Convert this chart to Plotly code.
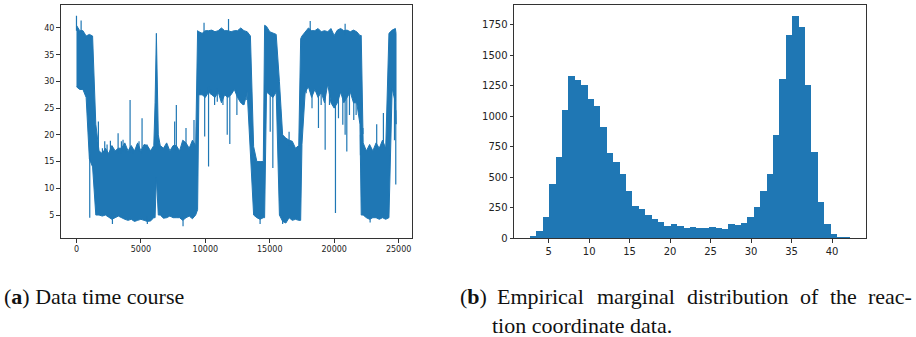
import numpy as np
import plotly.graph_objects as go

# ---------------- data ----------------
# (a) time course: envelope (upper / lower edge) of the dense trace
t_env = [0, 250, 500, 750, 1000, 1250, 1500, 1750, 2000, 2250, 2500, 2750, 3000, 3250, 3500,
         3750, 4000, 4250, 4500, 4750, 5000, 5250, 5500, 5750, 6000, 6100, 6200, 6350, 6500,
         6750, 7000, 7250, 7500, 7750, 8000, 8250, 8500, 8750, 9000, 9250, 9400, 9500, 9750,
         10000, 10250, 10500, 10750, 11000, 11250, 11500, 11750, 12000, 12250, 12500, 12750,
         13000, 13250, 13500, 13750, 14000, 14250, 14500, 14600, 14750, 15000, 15250, 15500,
         15750, 16000, 16250, 16500, 16750, 17000, 17250, 17400, 17500, 17750, 18000, 18250,
         18500, 18750, 19000, 19250, 19500, 19750, 20000, 20250, 20500, 20750, 21000, 21250,
         21500, 21750, 22000, 22100, 22250, 22500, 22750, 23000, 23250, 23500, 23750, 24000,
         24250, 24500, 24750, 24800]
y_high = [40.5, 39.5, 39.5, 38.5, 38.8, 38.5, 22.0, 17.0, 16.5, 17.5, 16.5, 18.0, 17.0, 17.5, 17.5,
          18.5, 17.0, 18.0, 17.0, 18.5, 17.0, 18.2, 18.0, 17.0, 18.0, 26.0, 39.0, 20.0, 18.0,
          17.5, 18.5, 17.0, 18.0, 18.0, 17.0, 19.0, 18.5, 17.5, 19.0, 18.0, 39.5, 39.3, 39.0,
          39.5, 39.5, 39.6, 39.3, 39.5, 40.0, 39.5, 39.5, 39.3, 39.5, 39.5, 40.0,
          39.5, 39.3, 38.5, 17.8, 15.0, 15.0, 15.0, 40.5, 40.3, 39.3, 39.0, 38.8,
          30.0, 20.0, 19.4, 19.0, 18.8, 17.5, 18.0, 38.0, 38.5, 39.3, 40.0, 39.5,
          39.5, 39.9, 39.3, 39.5, 39.3, 39.9, 38.6, 39.6, 39.9, 39.5, 39.6, 39.3,
          39.6, 39.3, 38.6, 38.6, 18.5, 17.0, 18.2, 17.0, 18.5, 17.5, 19.0, 17.5,
          39.0, 39.6, 39.9, 39.0]
y_low = [29.0, 28.5, 28.5, 27.0, 15.5, 14.0, 5.0, 5.0, 4.8, 5.0, 4.6, 4.2, 4.5, 4.8, 4.5,
         4.2, 4.0, 4.2, 3.8, 4.0, 4.2, 4.0, 3.8, 3.9, 4.5, 4.5, 12.0, 5.0, 5.0,
         4.4, 4.5, 4.8, 4.5, 4.5, 4.5, 4.0, 4.5, 4.8, 4.3, 5.0, 6.0, 27.5, 27.5,
         27.0, 28.0, 27.5, 27.0, 28.0, 26.0, 27.5, 27.0, 27.5, 28.5, 27.0, 26.0,
         25.6, 28.0, 18.0, 5.0, 4.5, 4.2, 4.5, 4.5, 28.0, 27.5, 27.0, 28.0,
         5.0, 3.8, 3.5, 4.5, 4.0, 4.2, 4.0, 4.0, 18.2, 28.0, 29.0, 27.0,
         28.5, 27.0, 28.0, 26.0, 29.5, 26.0, 25.0, 26.0, 28.0, 26.0, 27.0, 28.0,
         26.0, 26.0, 22.0, 5.0, 5.0, 4.5, 4.2, 4.5, 4.5, 4.2, 4.5, 4.2,
         4.5, 28.7, 26.0, 22.0]
# isolated excursions beyond the dense band
spike_up_t = [0, 360, 1700, 2013, 2193, 2374, 2633, 3230, 3485, 3614, 3873, 4160, 4390, 4700,
              4855, 5090, 5475, 7620, 7750, 8500, 9120, 9900, 11800, 16500,
              18140, 20850, 22230, 23300, 23820]
spike_up_y = [42.3, 41.4, 22.5, 17.5, 18.8, 18.2, 18.9, 20.3, 18.8, 19.1, 17.5, 26.5, 16.9, 18.2,
              18.8, 23.1, 18.2, 22.5, 25.6, 21.3, 22.8, 41.0, 41.7, 20.6,
              41.3, 40.8, 21.3, 22.0, 24.1]
spike_dn_t = [1030, 9559, 9950, 10250, 10463, 10720, 10928, 11186, 11367, 11700, 11900, 12450,
              12918, 13176, 15036, 15240, 17827, 18280, 18780, 18990, 19300, 19636, 19817,
              20100, 20333, 20669, 20850, 20980, 21186, 21520, 21703, 22040, 24680, 24780,
              2790, 5500, 8270, 14250, 16000, 22790]
spike_dn_y = [4.5, 27.8, 19.7, 14.1, 27.5, 25.6, 26.2, 28.4, 25.6, 20.0, 18.3, 23.7,
              25.6, 26.5, 20.6, 13.8, 27.8, 25.0, 21.3, 25.6, 17.2, 25.6, 26.2,
              5.4, 23.1, 21.9, 20.0, 16.9, 23.7, 22.8, 23.7, 20.0, 19.0, 10.7,
              3.3, 3.3, 2.9, 3.3, 3.3, 3.6]

# (b) histogram: 50 bins between the data minimum and maximum
hist_min, hist_max = 2.7, 42.2
hist_counts = [14, 57, 170, 444, 666, 1052, 1329, 1296, 1255, 1140, 1082, 910, 696, 622, 523,
               384, 260, 236, 186, 153, 131, 99, 112, 99, 79, 88, 79, 79, 88, 79, 71, 112,
               104, 120, 170, 252, 384, 523, 844, 1304, 1668, 1822, 1732, 1255, 704, 293,
               112, 30, 8, 3]

ts_xticks = [0, 5000, 10000, 15000, 20000, 25000]
ts_yticks = [5, 10, 15, 20, 25, 30, 35, 40]
h_xticks = [5, 10, 15, 20, 25, 30, 35, 40]
h_yticks = [0, 250, 500, 750, 1000, 1250, 1500, 1750]

caption_a = ['(<b>a</b>) Data time course']
caption_b1 = ['(<b>b</b>)', 'Empirical', 'marginal', 'distribution', 'of', 'the', 'reac-']
caption_b2 = ['tion coordinate data.']

# ---------------- figure ----------------
BLUE = '#1f77b4'
W, H = 916, 337
fig = go.Figure()

t_env_a = np.array(t_env, float)
hi = np.array(y_high)
lo = np.array(y_low)
fig.add_trace(go.Scatter(
    x=np.concatenate([t_env_a, t_env_a[::-1]]),
    y=np.concatenate([hi, lo[::-1]]),
    fill='toself', fillcolor=BLUE, mode='lines',
    line=dict(color=BLUE, width=1), hoverinfo='skip', showlegend=False,
    xaxis='x', yaxis='y'))

sx, sy = [], []
for t, y in zip(spike_up_t, spike_up_y):
    base = float(np.interp(t, t_env_a, hi))
    sx += [t, t, None]
    sy += [base - 1.0, y, None]
for t, y in zip(spike_dn_t, spike_dn_y):
    base = float(np.interp(t, t_env_a, lo))
    sx += [t, t, None]
    sy += [base + 1.0, y, None]
fig.add_trace(go.Scatter(x=sx, y=sy, mode='lines', line=dict(color=BLUE, width=1.2),
                         hoverinfo='skip', showlegend=False, xaxis='x', yaxis='y'))

edges = np.linspace(hist_min, hist_max, len(hist_counts) + 1)
centers = (edges[:-1] + edges[1:]) / 2
bw = edges[1] - edges[0]
fig.add_trace(go.Bar(x=centers, y=hist_counts, width=bw, marker=dict(color=BLUE, line=dict(width=0)),
                     showlegend=False, xaxis='x2', yaxis='y2'))

def px(v):
    return v / W

def py(v):
    return 1 - v / H

ax_common = dict(showline=True, mirror=True, linecolor='#333', linewidth=1,
                 ticks='outside', ticklen=3.5, tickwidth=0.8, tickcolor='#333',
                 showgrid=False, zeroline=False, automargin=False)
tick_font = dict(family='DejaVu Sans', size=8, color='#222')
tick_font_b = dict(family='DejaVu Sans', size=10, color='#222')

fig.update_layout(
    width=W, height=H, margin=dict(l=0, r=0, t=0, b=0, autoexpand=False),
    paper_bgcolor='white', plot_bgcolor='white', bargap=0,
    xaxis=dict(domain=[px(60.5), px(412)], range=[-1240, 26040], tickvals=ts_xticks,
               ticktext=[str(v) for v in ts_xticks],
               tickfont=tick_font, anchor='y', **ax_common),
    yaxis=dict(domain=[py(238), py(5)], range=[0.7, 44.3], tickvals=ts_yticks,
               ticktext=[str(v) for v in ts_yticks],
               tickfont=tick_font, anchor='x', **ax_common),
    xaxis2=dict(domain=[px(514), px(866)], range=[0.72, 44.2], tickvals=h_xticks,
                ticktext=[str(v) for v in h_xticks],
                tickfont=tick_font_b, anchor='y2', **ax_common),
    yaxis2=dict(domain=[py(238), py(5)], range=[0, 1912], tickvals=h_yticks,
                ticktext=[str(v) for v in h_yticks],
                tickfont=tick_font_b, anchor='x2', **ax_common),
)

cap_font = dict(family='Liberation Serif', size=22, color='#111')
fig.add_annotation(text=caption_a[0], xref='paper', yref='paper',
                   x=px(3), y=py(296), xanchor='left', yanchor='middle', showarrow=False,
                   font=cap_font, borderpad=0)
b1_x = [459, 496, 596, 686, 799, 829, 913]
for i, (word, xw) in enumerate(zip(caption_b1, b1_x)):
    last = i == len(caption_b1) - 1
    fig.add_annotation(text=word, xref='paper', yref='paper',
                       x=px(xw), y=py(296), xanchor='right' if last else 'left',
                       yanchor='middle', showarrow=False, font=cap_font, borderpad=0)
fig.add_annotation(text=caption_b2[0], xref='paper', yref='paper',
                   x=px(491), y=py(325), xanchor='left', yanchor='middle', showarrow=False,
                   font=cap_font, borderpad=0)

fig.write_html('out.html', post_script="document.body.style.margin='0';",
               config={'displayModeBar': False})
